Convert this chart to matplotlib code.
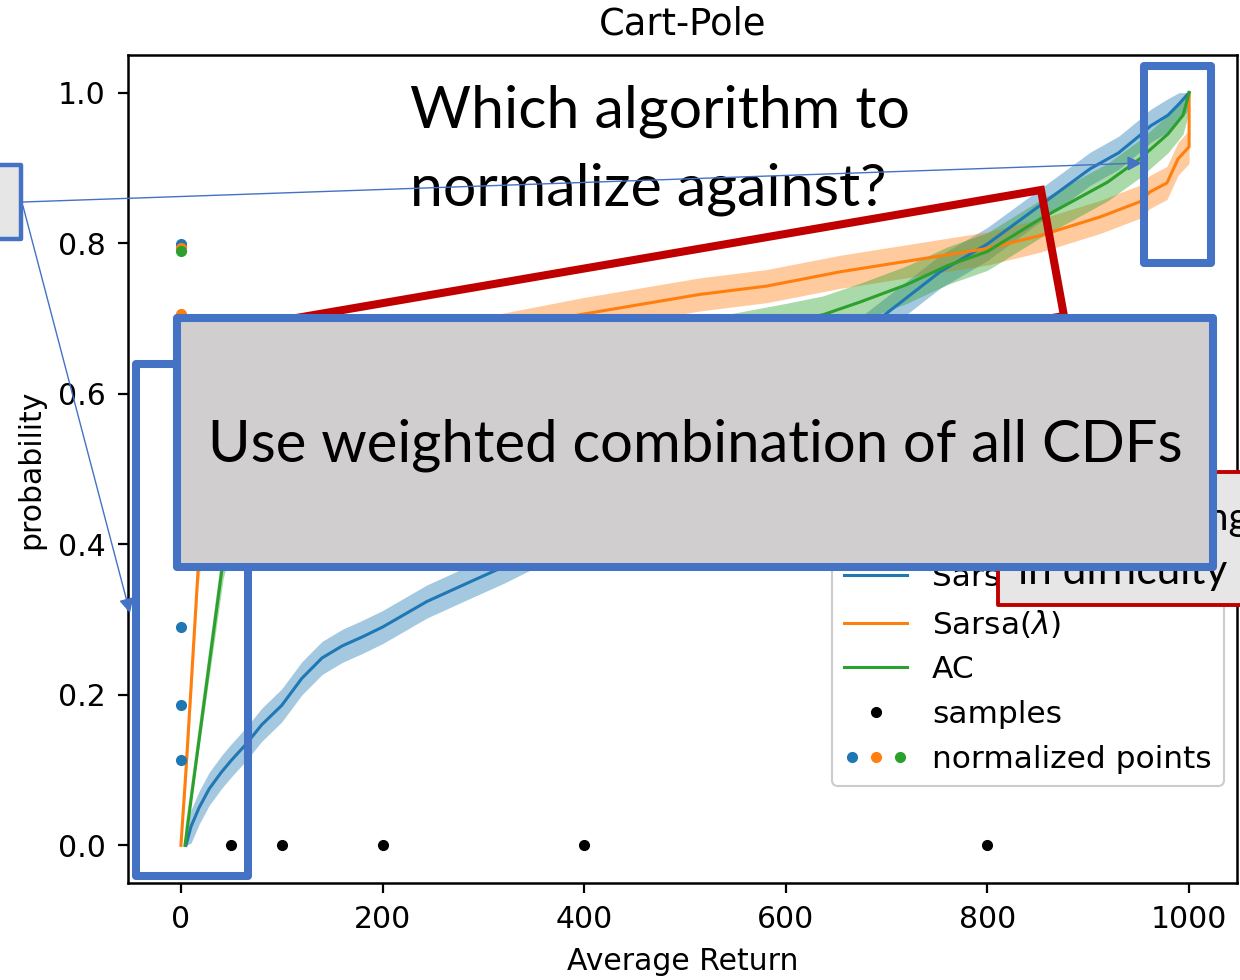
import numpy as np
import matplotlib
matplotlib.use("Agg")
import matplotlib.pyplot as plt
from matplotlib.patches import Rectangle, Polygon, FancyArrowPatch
from matplotlib.lines import Line2D
from matplotlib.legend_handler import HandlerTuple

# ---- data -------------------------------------------------------------
algorithms = ["Sarsa", "Sarsa($\\lambda$)", "AC"]
colors = ["C0", "C1", "C2"]

sarsa_return = [5, 10, 18, 28, 40, 50, 65, 80, 100, 120, 140, 160, 180, 200, 244,
                290, 320, 350, 400, 450, 500, 550, 600, 650, 703, 753, 800, 852,
                902, 930, 951, 962, 979, 990, 1000]
sarsa_prob = [0.0, 0.025, 0.05, 0.075, 0.097, 0.113, 0.135, 0.16, 0.186, 0.222,
              0.249, 0.265, 0.277, 0.29, 0.324, 0.352, 0.37, 0.39, 0.43, 0.47,
              0.51, 0.56, 0.605, 0.655, 0.71, 0.762, 0.799, 0.85, 0.899, 0.92,
              0.943, 0.956, 0.97, 0.985, 1.0]

sarsa_lambda_return = [0, 5, 10, 17, 25, 35, 50, 75, 100, 150, 200, 300, 400, 515,
                       581, 654, 720, 800, 852, 912, 951, 961, 978, 989, 1000, 1000]
sarsa_lambda_prob = [0.0, 0.1, 0.21, 0.366, 0.45, 0.51, 0.56, 0.59, 0.61, 0.63,
                     0.65, 0.68, 0.706, 0.732, 0.743, 0.762, 0.776, 0.793, 0.81,
                     0.835, 0.855, 0.868, 0.88, 0.912, 0.928, 1.0]

ac_return = [4, 42, 50, 75, 100, 150, 200, 300, 400, 500, 600, 637, 674,
             720, 760, 800, 852, 919, 951, 979, 994, 1000]
ac_prob = [0.0, 0.38, 0.42, 0.47, 0.50, 0.54, 0.57, 0.61, 0.64, 0.67,
           0.695, 0.705, 0.722, 0.745, 0.77, 0.789, 0.832, 0.881, 0.912, 0.945,
           0.97, 1.0]

band_halfwidth = [0.022, 0.022, 0.025]

sample_returns = [50, 100, 200, 400, 800]
sample_prob = [0, 0, 0, 0, 0]
sarsa_points = [0.113, 0.186, 0.290, 0.430, 0.799]
sarsa_lambda_points = [0.56, 0.61, 0.65, 0.706, 0.793]
ac_points = [0.42, 0.50, 0.57, 0.64, 0.789]

x_ticks = [0, 200, 400, 600, 800, 1000]
y_ticks = [0.0, 0.2, 0.4, 0.6, 0.8, 1.0]

curves = [(sarsa_return, sarsa_prob), (sarsa_lambda_return, sarsa_lambda_prob),
          (ac_return, ac_prob)]
points = [sarsa_points, sarsa_lambda_points, ac_points]

# ---- figure -------------------------------------------------------------
W, H = 1240, 980
fig = plt.figure(figsize=(W / 100, H / 100), dpi=100)
plt.rcParams["font.size"] = 21.5


def px(x, y):
    """pixel position (origin top-left) -> figure fraction"""
    return (x / W, 1 - y / H)


ax = fig.add_axes([128 / W, 97 / H, (1237 - 128) / W, (883 - 55) / H])

for (xr, pr), c, hw, name in zip(curves, colors, band_halfwidth, algorithms):
    xr = np.asarray(xr, float)
    pr = np.asarray(pr, float)
    ax.fill_between(xr, np.clip(pr - hw, 0, 1), np.clip(pr + hw, 0, 1),
                    color=c, alpha=0.4, lw=0)
    ax.plot(xr, pr, color=c, lw=2.2, label=name)

ax.plot(sample_returns, sample_prob, "o", color="black", ms=7, ls="none")
for pts, c in zip(points, colors):
    ax.plot(np.zeros(len(pts)), pts, "o", color=c, ms=7, ls="none")

ax.set_xlim(-52.5, 1047.5)
ax.set_ylim(-0.05, 1.05)
ax.set_xticks(x_ticks)
ax.set_yticks(y_ticks)
ax.set_yticklabels([f"{v:.1f}" for v in y_ticks])
ax.tick_params(labelsize=21.5, length=7, width=1.6, pad=9)
for s in ax.spines.values():
    s.set_linewidth(1.8)
ax.set_title("Cart-Pole", fontsize=26.5, pad=15)
ax.set_xlabel("Average Return", fontsize=21.5, labelpad=9)
ax.set_ylabel("probability", fontsize=21.5, labelpad=9)

line_handles = [Line2D([], [], color=c, lw=2.2) for c in colors]
sample_handle = Line2D([], [], marker="o", color="black", ls="none", ms=7)
norm_handles = tuple(Line2D([], [], marker="o", color=c, ls="none", ms=7)
                     for c in colors)
leg = ax.legend(line_handles + [sample_handle, norm_handles],
                algorithms + ["samples", "normalized points"],
                handler_map={tuple: HandlerTuple(ndivide=None, pad=0.3)},
                loc="lower right", bbox_to_anchor=px(1224, 786),
                bbox_transform=fig.transFigure, borderaxespad=0,
                fontsize=22.5, handlelength=2.0, framealpha=1)
leg.get_frame().set_linewidth(1.5)

# ---- slide annotations ----------------------------------------------------
blue = "#4472c4"
red = "#c00000"


def box(x0, y0, x1, y1, lw, ec, fc="none", z=3):
    (fx0, fy1) = px(x0, y1)
    (fx1, fy0) = px(x1, y0)
    r = Rectangle((fx0, fy1), fx1 - fx0, fy0 - fy1, transform=fig.transFigure,
                  lw=lw, ec=ec, fc=fc, zorder=z, joinstyle="round")
    fig.add_artist(r)


# left callout box (cut by the figure edge)
box(-20, 165, 21, 239, 3.2, blue, "#e7e6e6", z=2)

# connectors from the callout
for (x0, y0, x1, y1) in [(23, 202, 1142, 163), (23, 206, 130, 613)]:
    a = FancyArrowPatch(px(x0, y0), px(x1, y1),
                        transform=fig.transFigure, arrowstyle="-|>",
                        mutation_scale=22, lw=1.0, color=blue, zorder=9,
                        shrinkA=0, shrinkB=0)
    fig.add_artist(a)

# tall frame around the x=0 column and small frame at x=1000
box(136, 364, 248, 876, 5.8, blue, z=3)
box(1144, 66, 1211, 263, 5.8, blue, z=3)

# tilted red frame
corners = [px(180, 338), px(1041, 190), px(1064, 316), px(203, 464)]
fig.add_artist(Polygon(corners, closed=True, transform=fig.transFigure,
                       fill=False, ec=red, lw=5.8, zorder=3, joinstyle="miter"))

# red-bordered note on the right
box(998, 472, 1275, 605, 2.8, red, "#e7e6e6", z=4)
fig.text(*px(1018, 530), "Tasks varying", fontsize=28, family="Lato",
         ha="left", va="baseline", zorder=5)
fig.text(*px(1018, 584), "in difficulty", fontsize=30.5, family="Lato",
         ha="left", va="baseline", zorder=5)

# main grey box
box(177, 318, 1213, 567, 5.8, blue, "#d0cece", z=6)
fig.text(*px(695, 462), "Use weighted combination of all CDFs", fontsize=41.8,
         family="Lato", ha="center", va="baseline", zorder=7)

# question text
fig.text(*px(410, 128), "Which algorithm to", fontsize=42.5, family="Lato",
         ha="left", va="baseline", zorder=8)
fig.text(*px(410, 205), "normalize against?", fontsize=42.5, family="Lato",
         ha="left", va="baseline", zorder=8)

fig.savefig("out.png", dpi=100)
